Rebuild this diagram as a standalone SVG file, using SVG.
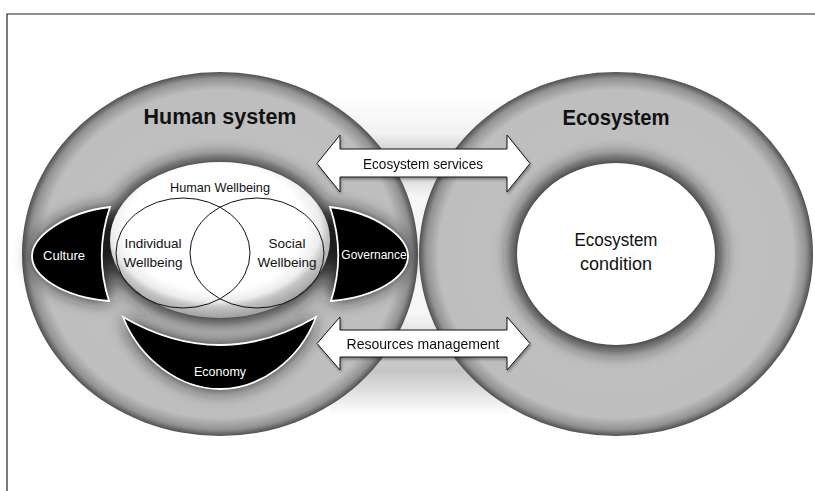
<svg xmlns="http://www.w3.org/2000/svg" width="815" height="491" viewBox="0 0 815 491">
  <defs>
    <style>
      .t { font-family: "Liberation Sans", Arial, sans-serif; text-anchor: middle; }
      .title { font-weight: bold; font-size: 22px; fill: #111; }
      .lbl { font-size: 13.5px; fill: #111; }
      .wl { font-size: 13px; fill: #fff; }
      .arrow { fill: #fff; stroke: #111; stroke-width: 1; stroke-linejoin: miter; }
      .blk { fill: #000; stroke: #fff; stroke-width: 1.8; }
      .venn { fill: none; stroke: #111; stroke-width: 1; }
    </style>
    <radialGradient id="ring" cx="0.5" cy="0.5" r="0.5">
      <stop offset="0" stop-color="#c2c2c2"/>
      <stop offset="0.9" stop-color="#bebebe"/>
      <stop offset="0.965" stop-color="#929292"/>
      <stop offset="1" stop-color="#505050"/>
    </radialGradient>
    <radialGradient id="hw" cx="0.48" cy="0.42" r="0.58">
      <stop offset="0" stop-color="#ffffff"/>
      <stop offset="0.7" stop-color="#ffffff"/>
      <stop offset="0.82" stop-color="#ececec"/>
      <stop offset="0.88" stop-color="#c4c4c4"/>
      <stop offset="1" stop-color="#a0a0a0"/>
    </radialGradient>
    <linearGradient id="neck" x1="0" y1="0" x2="0" y2="1">
      <stop offset="0" stop-color="#ffffff"/>
      <stop offset="0.12" stop-color="#f2f2f2"/>
      <stop offset="0.2" stop-color="#c4c4c4"/>
      <stop offset="0.32" stop-color="#f6f6f6"/>
      <stop offset="0.68" stop-color="#f6f6f6"/>
      <stop offset="0.86" stop-color="#c4c4c4"/>
      <stop offset="1" stop-color="#ffffff"/>
    </linearGradient>
    <filter id="halo" x="-30%" y="-30%" width="160%" height="160%">
      <feGaussianBlur stdDeviation="9"/>
    </filter>
    <filter id="shadow" x="-10%" y="-30%" width="120%" height="160%">
      <feDropShadow dx="1" dy="2" stdDeviation="1.5" flood-color="#000" flood-opacity="0.35"/>
    </filter>
  </defs>

  <rect width="815" height="491" fill="#ffffff"/>
  <path d="M7,491 V14 H815" fill="none" stroke="#222" stroke-width="1.2"/>

  <rect x="330" y="95" width="180" height="320" fill="url(#neck)"/>

  <g id="human-system">
    <ellipse cx="220" cy="254" rx="198" ry="182" fill="url(#ring)"/>
    <g filter="url(#halo)" fill="#1e1e1e">
      <ellipse cx="220" cy="240" rx="114" ry="82"/>
      <path d="M110,207 C62,213 32,238 32,256 C32,276 62,297 109,301 Z"/>
      <path d="M330,207 C378,213 408,238 408,256 C408,276 378,297 331,301 Z"/>
      <path d="M123,317 Q220,373 316,317 C300,360 260,389 220,389 C180,389 140,360 123,317 Z"/>
    </g>
    <text class="t title" x="220" y="124" textLength="153" lengthAdjust="spacingAndGlyphs">Human system</text>
  </g>

  <g id="human-wellbeing">
    <ellipse cx="220" cy="240" rx="110" ry="78" fill="url(#hw)"/>
    <text class="t lbl" x="220" y="192" textLength="100" lengthAdjust="spacingAndGlyphs">Human Wellbeing</text>
  </g>
  <g id="individual-wellbeing">
    <ellipse class="venn" cx="183" cy="253" rx="67" ry="55"/>
    <text class="t lbl" x="153" y="248">Individual</text>
    <text class="t lbl" x="153" y="267">Wellbeing</text>
  </g>
  <g id="social-wellbeing">
    <ellipse class="venn" cx="257" cy="253" rx="67" ry="55"/>
    <text class="t lbl" x="287" y="248">Social</text>
    <text class="t lbl" x="287" y="267">Wellbeing</text>
  </g>

  <g id="culture">
    <path class="blk" d="M110,207 C62,213 32,238 32,256 C32,276 62,297 109,301 Q94,254 110,207 Z"/>
    <text class="t wl" x="64" y="260">Culture</text>
  </g>
  <g id="governance">
    <path class="blk" d="M330,207 C378,213 408,238 408,256 C408,276 378,297 331,301 Q346,254 330,207 Z"/>
    <text class="t wl" x="374" y="259" style="font-size:12px">Governance</text>
  </g>
  <g id="economy">
    <path class="blk" d="M123,317 Q220,373 316,317 C300,360 260,389 220,389 C180,389 140,360 123,317 Z"/>
    <text class="t wl" x="220" y="376" style="font-size:12.5px">Economy</text>
  </g>

  <g id="ecosystem">
    <ellipse cx="616" cy="254" rx="197" ry="182" fill="url(#ring)"/>
    <ellipse cx="616" cy="254" rx="104" ry="96" fill="#1e1e1e" filter="url(#halo)"/>
    <text class="t title" x="616" y="125" textLength="107" lengthAdjust="spacingAndGlyphs">Ecosystem</text>
  </g>
  <g id="ecosystem-condition">
    <ellipse cx="616" cy="254" rx="99" ry="91" fill="#ffffff"/>
    <text class="t" x="616" y="246" style="font-size:18px" fill="#111" textLength="83" lengthAdjust="spacingAndGlyphs">Ecosystem</text>
    <text class="t" x="616" y="270" style="font-size:18px" fill="#111">condition</text>
  </g>

  <g id="connectors">
    <g id="ecosystem-services" filter="url(#shadow)">
      <polygon class="arrow" points="317,163.5 340,135 340,149 507,149 507,135 530,163.5 507,192 507,177 340,177 340,192"/>
      <text class="t" x="423" y="168.5" style="font-size:15px" fill="#111" textLength="120" lengthAdjust="spacingAndGlyphs">Ecosystem services</text>
    </g>
    <g id="resources-management" filter="url(#shadow)">
      <polygon class="arrow" points="317,343.5 340,317 340,330 507,330 507,317 530,343.5 507,370 507,357 340,357 340,370"/>
      <text class="t" x="423" y="349" style="font-size:15px" fill="#111" textLength="153" lengthAdjust="spacingAndGlyphs">Resources management</text>
    </g>
  </g>
</svg>
